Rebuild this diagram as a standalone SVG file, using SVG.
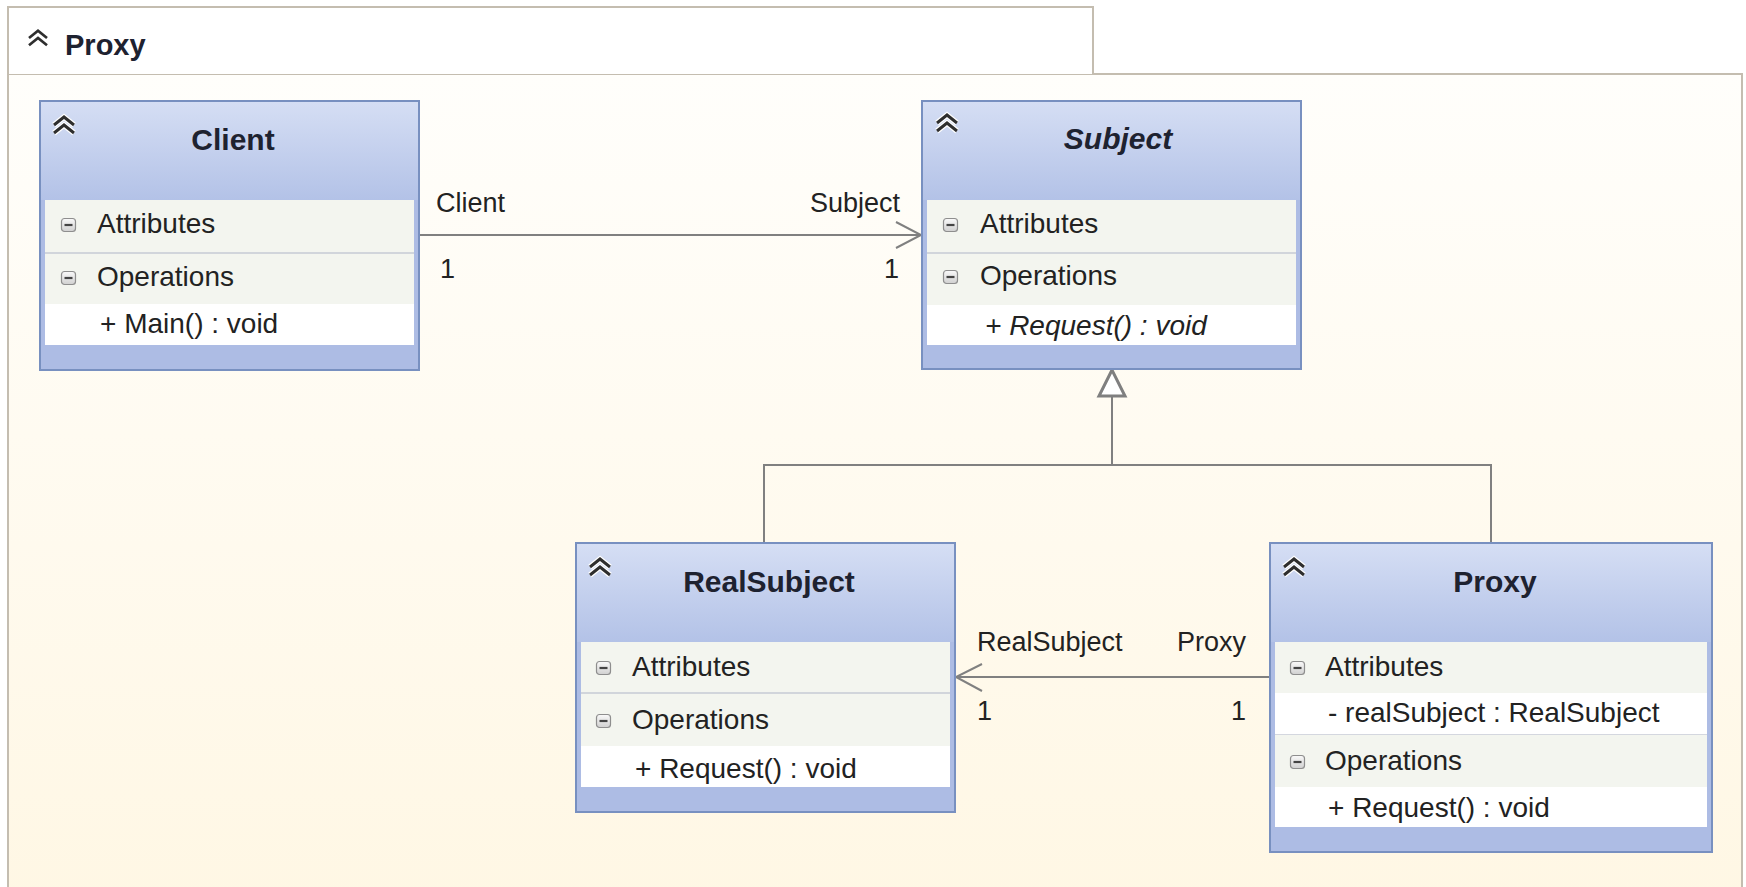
<svg xmlns="http://www.w3.org/2000/svg" width="1746" height="887" viewBox="0 0 1746 887">
<defs>
<linearGradient id="frameBg" x1="0" y1="0" x2="0" y2="1">
<stop offset="0" stop-color="#FFFEFB"/>
<stop offset="1" stop-color="#FFF7E4"/>
</linearGradient>
<linearGradient id="hdr" x1="0" y1="0" x2="0" y2="1">
<stop offset="0" stop-color="#D5DEF4"/>
<stop offset="1" stop-color="#B3C2E7"/>
</linearGradient>
<linearGradient id="minusBg" x1="0" y1="0" x2="0" y2="1">
<stop offset="0" stop-color="#FAFAFA"/>
<stop offset="1" stop-color="#D0D0D0"/>
</linearGradient>
<symbol id="chev" viewBox="0 0 24 20" overflow="visible">
<path d="M2,10 L12,2 L22,10 M2,18 L12,10 L22,18" fill="none" stroke="#FFFFFF" stroke-width="5.5"/>
<path d="M2,10 L12,2 L22,10 M2,18 L12,10 L22,18" fill="none" stroke="#2E2E2E" stroke-width="3"/>
</symbol>
<symbol id="minus" viewBox="0 0 15 14" overflow="visible">
<rect x="0.5" y="0.5" width="14" height="13" rx="3" fill="url(#minusBg)" stroke="#8E8E8E" stroke-width="1.2"/>
<line x1="3.5" y1="7" x2="11.5" y2="7" stroke="#444444" stroke-width="2.2"/>
</symbol>
</defs>
<style>
.box{fill:#ADBCE4;stroke:#7890C0;stroke-width:2}
.head{fill:url(#hdr)}
.sec{fill:#F3F5EF}
.mem{fill:#FFFFFF}
.sep{stroke:#C6CAD4;stroke-width:1.5}
.title{font-family:"Liberation Sans",Arial,sans-serif;font-size:30px;font-weight:bold;fill:#1E2230;text-anchor:middle}
.txt{font-family:"Liberation Sans",Arial,sans-serif;font-size:28px;fill:#222222}
.lbl{font-family:"Liberation Sans",Arial,sans-serif;font-size:27px;fill:#222222}
.end{text-anchor:end}
.conn{fill:none;stroke:#808080;stroke-width:2}
</style>
<rect x="0" y="0" width="1746" height="887" fill="#FFFFFF"/>
<g id="frame">
<rect x="8" y="74" width="1734" height="830" fill="url(#frameBg)" stroke="#C4BDB0" stroke-width="2"/>
<path d="M8,74 L8,7 L1093,7 L1093,74" fill="#FFFFFF" stroke="#C4BDB0" stroke-width="2"/>
<use href="#chev" x="27" y="29" width="22" height="18"/>
<text x="65" y="55" class="title" style="text-anchor:start;font-size:29px">Proxy</text>
</g>
<g id="connectors">
<line class="conn" x1="419" y1="235" x2="921" y2="235"/>
<polyline class="conn" points="896,222 921,235 896,248" stroke-width="2.5"/>
<line class="conn" x1="1270" y1="677" x2="956" y2="677"/>
<polyline class="conn" points="982,664 956,677 982,691" stroke-width="2.5"/>
<polyline class="conn" points="764,543 764,465 1491,465 1491,543"/>
<line class="conn" x1="1112" y1="465" x2="1112" y2="396"/>
<polygon points="1112,370 1099,396 1125,396" fill="#FFFFFF" stroke="#7F7F7F" stroke-width="3"/>
<text class="lbl" x="436" y="212">Client</text>
<text class="lbl end" x="900" y="212">Subject</text>
<text class="lbl" x="440" y="278">1</text>
<text class="lbl end" x="899" y="278">1</text>
<text class="lbl" x="977" y="651">RealSubject</text>
<text class="lbl end" x="1246" y="651">Proxy</text>
<text class="lbl" x="977" y="720">1</text>
<text class="lbl end" x="1246" y="720">1</text>
</g>
<g id="node-client">
<rect class="box" x="40" y="101" width="379" height="269"/>
<rect class="head" x="41" y="102" width="377" height="98"/>
<rect class="sec" x="45" y="200" width="369" height="104"/>
<line class="sep" x1="45" y1="253" x2="414" y2="253"/>
<rect class="mem" x="45" y="304" width="369" height="41"/>
<use href="#chev" x="52" y="115" width="24" height="20"/>
<text class="title" x="233" y="150">Client</text>
<use href="#minus" x="61" y="218" width="15" height="14"/>
<text class="txt" x="97" y="233">Attributes</text>
<use href="#minus" x="61" y="271" width="15" height="14"/>
<text class="txt" x="97" y="286">Operations</text>
<text class="txt" x="100" y="333">+ Main() : void</text>
</g>
<g id="node-subject">
<rect class="box" x="922" y="101" width="379" height="268"/>
<rect class="head" x="923" y="102" width="377" height="98"/>
<rect class="sec" x="927" y="200" width="369" height="105"/>
<line class="sep" x1="927" y1="253" x2="1296" y2="253"/>
<rect class="mem" x="927" y="305" width="369" height="40"/>
<use href="#chev" x="935" y="113" width="24" height="20"/>
<text class="title" x="1118" y="149" font-style="italic">Subject</text>
<use href="#minus" x="943" y="218" width="15" height="14"/>
<text class="txt" x="980" y="233">Attributes</text>
<use href="#minus" x="943" y="270" width="15" height="14"/>
<text class="txt" x="980" y="285">Operations</text>
<text class="txt" x="985" y="335" font-style="italic">+ Request() : void</text>
</g>
<g id="node-realsubject">
<rect class="box" x="576" y="543" width="379" height="269"/>
<rect class="head" x="577" y="544" width="377" height="98"/>
<rect class="sec" x="581" y="642" width="369" height="104"/>
<line class="sep" x1="581" y1="693" x2="950" y2="693"/>
<rect class="mem" x="581" y="746" width="369" height="41"/>
<use href="#chev" x="588" y="557" width="24" height="20"/>
<text class="title" x="769" y="592">RealSubject</text>
<use href="#minus" x="596" y="661" width="15" height="14"/>
<text class="txt" x="632" y="676">Attributes</text>
<use href="#minus" x="596" y="714" width="15" height="14"/>
<text class="txt" x="632" y="729">Operations</text>
<text class="txt" x="635" y="778">+ Request() : void</text>
</g>
<g id="node-proxy">
<rect class="box" x="1270" y="543" width="442" height="309"/>
<rect class="head" x="1271" y="544" width="440" height="98"/>
<rect class="sec" x="1275" y="642" width="432" height="51"/>
<rect class="mem" x="1275" y="693" width="432" height="42"/>
<line class="sep" x1="1275" y1="735" x2="1707" y2="735"/>
<rect class="sec" x="1275" y="735" width="432" height="52"/>
<rect class="mem" x="1275" y="787" width="432" height="40"/>
<use href="#chev" x="1282" y="557" width="24" height="20"/>
<text class="title" x="1495" y="592">Proxy</text>
<use href="#minus" x="1290" y="661" width="15" height="14"/>
<text class="txt" x="1325" y="676">Attributes</text>
<text class="txt" x="1328" y="722">- realSubject : RealSubject</text>
<use href="#minus" x="1290" y="755" width="15" height="14"/>
<text class="txt" x="1325" y="770">Operations</text>
<text class="txt" x="1328" y="817">+ Request() : void</text>
</g>
</svg>
